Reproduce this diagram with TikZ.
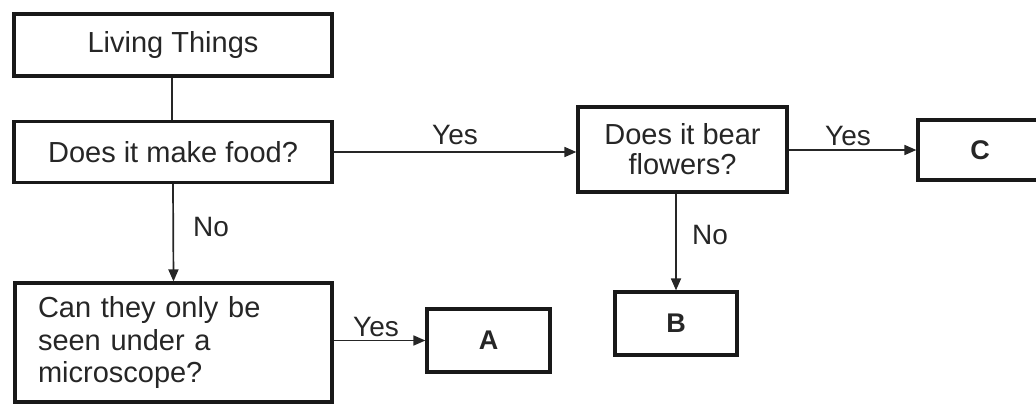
\documentclass[tikz,border=0pt]{standalone}
\usepackage{fontspec}
\setmainfont{Liberation Sans}
\usetikzlibrary{arrows.meta}
\begin{document}
\begin{tikzpicture}[x=1pt,y=-1pt,
  box/.style={draw=black!90, line width=3.2pt, align=center, inner sep=0pt,
    font=\fontsize{29}{32}\selectfont, text=black!85},
  letterbox/.style={box, font=\fontsize{27}{30}\selectfont\bfseries},
  conn/.style={draw=black!85, line width=1.7pt},
  arr/.style={conn, -{Triangle[length=12pt,width=10pt]}},
  lbl/.style={font=\fontsize{28}{30}\selectfont, text=black!85, inner sep=0pt}]
\useasboundingbox (0,0) rectangle (1036,405);
\node[box, minimum width=318pt, minimum height=62pt] (living) at (173,45) {Living Things};
\node[box, minimum width=318pt, minimum height=61pt] (food) at (173,152) {Does it make food?};
\node[box, minimum width=317pt, minimum height=119pt, text width=271pt, align=left,
  font=\fontsize{29}{32.5}\selectfont] (micro) at (173.5,342.5) {Can they only be\\seen under a\\microscope?};
\node[box, minimum width=209pt, minimum height=85pt, font=\fontsize{29}{30}\selectfont] (flowers) at (682.5,149.5) {Does it bear\\flowers?};
\node[letterbox, minimum width=124pt, minimum height=60pt] (c) at (980,150) {C};
\node[letterbox, minimum width=123pt, minimum height=63pt] (a) at (488.5,340.5) {A};
\node[letterbox, minimum width=122pt, minimum height=63pt] (b) at (676,323.5) {B};
\coordinate (ftop) at (172,152);
\draw[conn] (living.south -| ftop) -- (food.north -| ftop);
\draw[arr] (food.south) -- (micro.north);
\draw[arr] (food.east) -- (food.east -| flowers.west);
\draw[arr] (flowers.east |- c.west) -- (c.west);
\draw[arr] (micro.east |- a.west) -- (a.west);
\draw[arr] (b.north |- flowers.south) -- (b.north);
\node[lbl] (yes1) at (455,135) {Yes};
\node[lbl] (no1) at (211,227) {No};
\node[lbl] (yes2) at (848,136) {Yes};
\node[lbl] (no2) at (710,235) {No};
\node[lbl] (yes3) at (376,327) {Yes};
\end{tikzpicture}
\end{document}
